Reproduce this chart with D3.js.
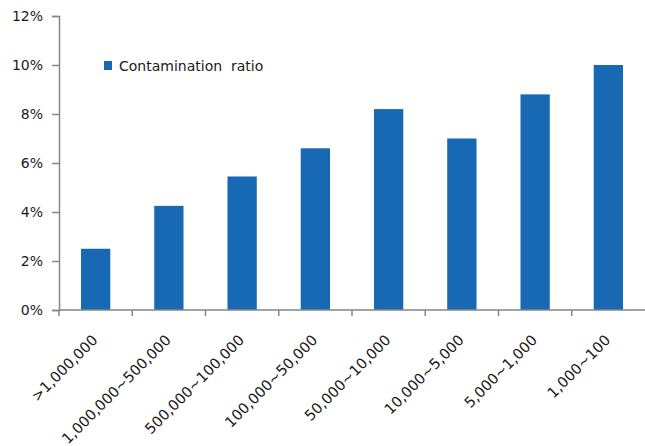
<!DOCTYPE html>
<html>
<head>
<meta charset="utf-8">
<script src="https://cdn.jsdelivr.net/npm/d3@7"></script>
<style>
    body { margin: 0; background: #fff; }
    svg text { font-family: "DejaVu Sans", Verdana, sans-serif; fill: #1a1a1a; }
</style>
</head>
<body>
<svg id="chart" width="645" height="446"></svg>
<script>
// chart data
var categories = ['>1,000,000', '1,000,000~500,000', '500,000~100,000', '100,000~50,000',
                  '50,000~10,000', '10,000~5,000', '5,000~1,000', '1,000~100'];
var ratios = [2.5, 4.25, 5.45, 6.6, 8.2, 7.0, 8.8, 10.0];
var yTicks = [0, 2, 4, 6, 8, 10, 12];
var seriesName = 'Contamination  ratio';

(function () {
    "use strict";

    var svg = d3.select('#chart'),
        plotLeft = 59,
        plotRight = 645,
        plotTop = 16,
        plotBottom = 310,
        axisColor = '#868686',
        barColor = '#1769b4',
        fontSize = 14;

    var x = d3.scaleBand().domain(categories).range([plotLeft, plotRight])
            .paddingInner(0.6).paddingOuter(0.3),
        xb = d3.scaleBand().domain(categories).range([plotLeft, plotRight]),
        y = d3.scaleLinear().domain([0, 12]).range([plotBottom, plotTop]);

    // bars
    svg.append('g').selectAll('rect')
        .data(ratios)
        .enter().append('rect')
        .attr('x', function (d, i) { return x(categories[i]); })
        .attr('width', x.bandwidth())
        .attr('y', function (d) { return y(d); })
        .attr('height', function (d) { return y(0) - y(d); })
        .attr('fill', barColor);

    // y axis
    var yAxis = svg.append('g')
        .attr('transform', 'translate(' + plotLeft + ',0)')
        .call(d3.axisLeft(y).tickValues(yTicks).tickSize(7).tickPadding(9)
              .tickFormat(function (d) { return d + '%'; }));
    yAxis.select('.domain').attr('stroke', axisColor).attr('stroke-width', 1.5);
    yAxis.selectAll('.tick line').attr('stroke', axisColor).attr('stroke-width', 1.5);
    yAxis.selectAll('.tick text').attr('font-size', fontSize).attr('fill', '#1a1a1a')
        .style('font-family', '"DejaVu Sans", Verdana, sans-serif');

    // x axis line and boundary ticks
    var xg = svg.append('g');
    xg.append('line')
        .attr('x1', plotLeft).attr('x2', plotRight)
        .attr('y1', plotBottom).attr('y2', plotBottom)
        .attr('stroke', axisColor).attr('stroke-width', 1.5);
    xg.selectAll('line.tk')
        .data(categories)
        .enter().append('line')
        .attr('class', 'tk')
        .attr('x1', function (d) { return xb(d); })
        .attr('x2', function (d) { return xb(d); })
        .attr('y1', plotBottom).attr('y2', plotBottom + 6)
        .attr('stroke', axisColor).attr('stroke-width', 1.5);

    // rotated category labels
    xg.selectAll('text')
        .data(categories)
        .enter().append('text')
        .attr('text-anchor', 'end')
        .attr('font-size', 14.6)
        .attr('transform', function (d) {
            return 'translate(' + (xb(d) + xb.bandwidth() / 2 + 3) + ',' + (plotBottom + 31) + ')rotate(-45)';
        })
        .text(function (d) { return d; });

    // legend
    var legend = svg.append('g').attr('transform', 'translate(104,61)');
    legend.append('rect').attr('width', 8).attr('height', 9).attr('fill', barColor);
    legend.append('text').attr('x', 15).attr('y', 10)
        .attr('font-size', fontSize)
        .style('white-space', 'pre')
        .text(seriesName);
}());
</script>
</body>
</html>
